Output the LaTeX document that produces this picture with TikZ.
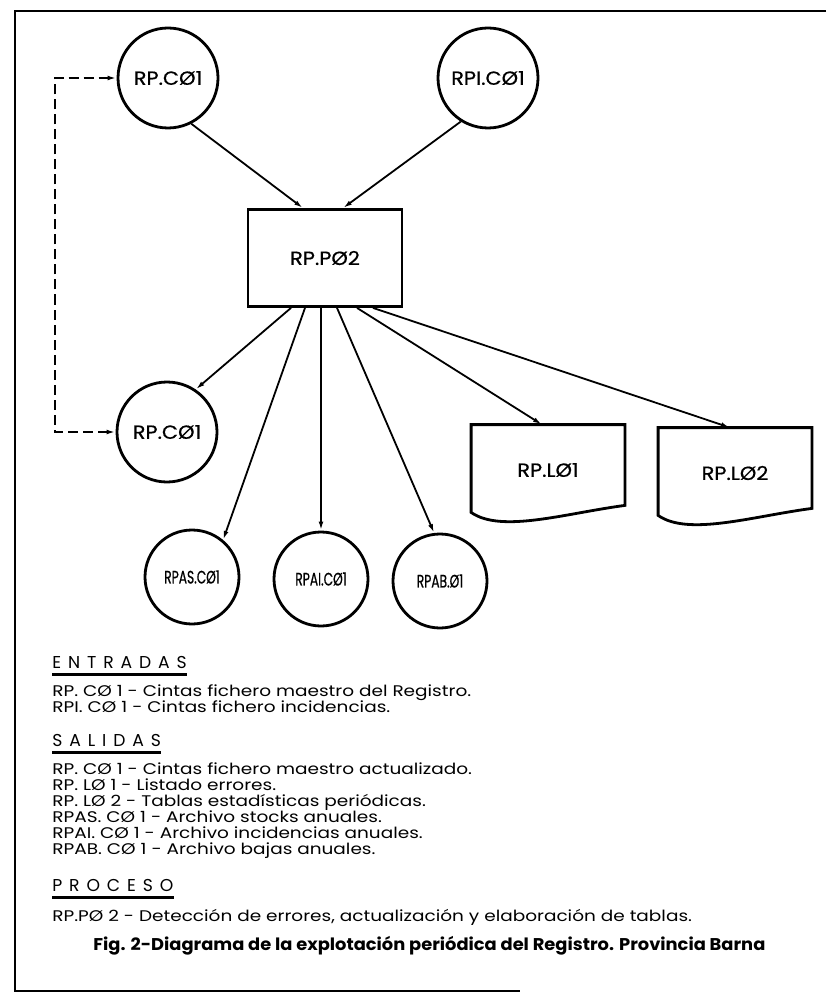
\documentclass[tikz,border=0pt]{standalone}
\usepackage{fontspec}
\setmainfont{Poppins}
\usetikzlibrary{arrows.meta,positioning}
\begin{document}
\begin{tikzpicture}[x=0.5pt,y=-0.5pt,
        every node/.style={font=\fontsize{9.5}{10}\selectfont\addfontfeature{FakeStretch=1.1,FakeBold=0.6}},
        fich/.style={draw,circle,line width=1.4pt,minimum size=50pt,inner sep=0pt},
        fichb/.style={fich,minimum size=47pt,
            font=\fontsize{9}{10}\selectfont\addfontfeature{FakeStretch=0.68,FakeBold=0.6}},
        proc/.style={draw,rectangle,line width=1.4pt,minimum width=77pt,minimum height=48.5pt},
        listado/.style={minimum width=76.5pt,minimum height=45pt,inner sep=0pt},
        flecha/.style={-{Latex[length=4.5pt,width=2.4pt]},line width=0.9pt},
        retorno/.style={{Latex[length=4.5pt,width=2.4pt]}-{Latex[length=4.5pt,width=2.4pt]},
            line width=0.9pt,dash pattern=on 5pt off 2.5pt},
        titulo/.style={anchor=west,inner sep=0pt,
            font=\fontsize{8.6}{9}\selectfont\addfontfeature{LetterSpace=40}},
        texto/.style={anchor=north west,align=left,inner sep=0pt,
            font=\fontsize{7.7}{8}\selectfont\addfontfeature{FakeStretch=1.2}}]
    \useasboundingbox (0,0) rectangle (826,994);
    % marco
    \draw[line width=1.2pt] (826,11) -- (15,11) -- (15,991) -- (520,991);

    % ficheros y proceso
    \node[fich] (rpc) at (168,78) {RP.CØ1};
    \node[fich] (rpi) at (488,78) {RPI.CØ1};
    \node[proc] (proc) at (325,258) {RP.PØ2};
    \node[fich] (rpcout) at (167,432) {RP.CØ1};
    \node[fichb] (rpas) at (192,577) {RPAS.CØ1};
    \node[fichb] (rpai) at (321,579) {RPAI.CØ1};
    \node[fichb] (rpab) at (440,581) {RPAB.Ø1};
    \node[listado] (rpl1) at (548,470) {RP.LØ1};
    \node[listado] (rpl2) at (735,473) {RP.LØ2};
    \foreach \l in {rpl1,rpl2}
        \draw[line width=1.4pt] (\l.north west) -- (\l.north east) -- ([yshift=5pt]\l.south east)
            .. controls ([xshift=-30pt,yshift=1pt]\l.south east) and ([xshift=15pt,yshift=-9pt]\l.south west)
            .. ([yshift=1.5pt]\l.south west) -- cycle;

    % conexiones
    \draw[flecha] (rpc.-63) -- ([xshift=-11pt]proc.north);
    \draw[flecha] (rpi.-122) -- ([xshift=9pt]proc.north);
    \draw[flecha] ([xshift=-17pt]proc.south) -- (rpcout.56);
    \draw[flecha] ([xshift=-10pt]proc.south) -- (rpas.50);
    \draw[flecha] (proc.south -| rpai.north) -- (rpai.north);
    \draw[flecha] ([xshift=6pt]proc.south) -- (rpab.97);
    \draw[flecha] ([xshift=16pt]proc.south) -- ([xshift=-3pt]rpl1.north);
    \draw[flecha] ([xshift=24pt]proc.south) -- ([xshift=-2.5pt]rpl2.north);
    \coordinate (vuelta) at (55,78);
    \draw[retorno] (rpcout.west) -| (vuelta) -- (rpc.west);

    % leyenda
    \node[titulo] (entradas) at (52,662) {ENTRADAS};
    \node[texto] (lentradas) at (52,684) {RP. CØ 1 - Cintas fichero maestro del Registro.\\
        RPI. CØ 1 - Cintas fichero incidencias.};
    \node[titulo] (salidas) at (52,740) {SALIDAS};
    \node[texto] (lsalidas) at (52,762) {RP. CØ 1 - Cintas fichero maestro actualizado.\\
        RP. LØ 1 - Listado errores.\\
        RP. LØ 2 - Tablas estadísticas periódicas.\\
        RPAS. CØ 1 - Archivo stocks anuales.\\
        RPAI. CØ 1 - Archivo incidencias anuales.\\
        RPAB. CØ 1 - Archivo bajas anuales.};
    \node[titulo] (proceso) at (52,885) {PROCESO};
    \node[texto] (lproceso) at (52,909) {RP.PØ 2 - Detección de errores, actualización y elaboración de tablas.};
    \foreach \t in {entradas,salidas,proceso}
        \draw[line width=1.2pt] ([yshift=-3pt]\t.south west) -- ([yshift=-3pt]\t.south east);
    \node[anchor=west,inner sep=0pt,font=\fontsize{8.5}{9}\selectfont\bfseries\addfontfeature{FakeStretch=1.05}]
        (pie) at (93,946) {Fig. 2-Diagrama de la explotación periódica del Registro. Provincia Barna};
\end{tikzpicture}
\end{document}
